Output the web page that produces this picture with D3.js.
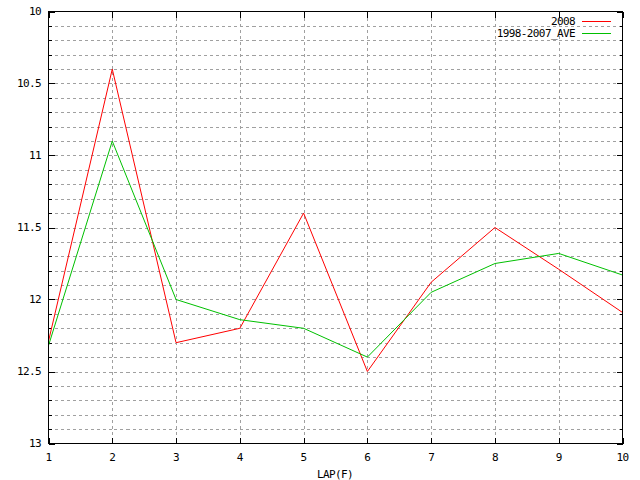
<!DOCTYPE html>
<html>
<head>
<meta charset="utf-8">
<script src="https://cdn.jsdelivr.net/npm/d3@7"></script>
<style>
html,body{margin:0;padding:0;background:#fff;}
svg{display:block;}
text{font-family:"DejaVu Sans Mono","Liberation Mono",monospace;font-size:11px;letter-spacing:-0.6px;fill:#000;}
</style>
</head>
<body>
<svg id="chart" width="640" height="480"></svg>
<script>
const laps = [1, 2, 3, 4, 5, 6, 7, 8, 9, 10];
const series2008 = [12.29, 10.4, 12.3, 12.2, 11.4, 12.5, 11.88, 11.5, 11.79, 12.09];
const seriesAve = [12.32, 10.9, 12.0, 12.14, 12.2, 12.4, 11.95, 11.75, 11.68, 11.83];
const seriesNames = ["2008", "1998-2007_AVE"];
const seriesColors = ["#ff0000", "#00c000"];
const yMajorTicks = [10, 10.5, 11, 11.5, 12, 12.5, 13];
const yTickLabels = ["10", "10.5", "11", "11.5", "12", "12.5", "13"];
const xLabel = "LAP(F)";

const L = 48.5, R = 622.5, T = 11.5, B = 443.5;
const svg = d3.select("#chart");
const x = d3.scaleLinear().domain([1, 10]).range([L, R]);
const y = d3.scaleLinear().domain([10, 13]).range([T, B]);

const yMinor = d3.range(0, 31).map(i => 10 + i / 10);

// grid
const grid = svg.append("g").attr("stroke", "#a0a0a0").attr("stroke-dasharray", "3,3")
  .attr("shape-rendering", "crispEdges");
yMinor.filter(v => v > 10 && v < 13).forEach(v => {
  grid.append("line").attr("x1", L).attr("x2", R).attr("y1", Math.round(y(v)) + 0.5).attr("y2", Math.round(y(v)) + 0.5);
});
laps.filter(v => v > 1 && v < 10).forEach(v => {
  grid.append("line").attr("y1", T).attr("y2", B).attr("x1", Math.round(x(v)) + 0.5).attr("x2", Math.round(x(v)) + 0.5);
});

// ticks
const ticks = svg.append("g").attr("stroke", "#000").attr("shape-rendering", "crispEdges");
yMinor.forEach(v => {
  const major = yMajorTicks.some(m => Math.abs(m - v) < 1e-9);
  const len = major ? 6 : 3;
  const yy = Math.round(y(v)) + 0.5;
  ticks.append("line").attr("x1", L).attr("x2", L + len).attr("y1", yy).attr("y2", yy);
  ticks.append("line").attr("x1", R).attr("x2", R - len).attr("y1", yy).attr("y2", yy);
});
laps.forEach(v => {
  const xx = Math.round(x(v)) + 0.5;
  ticks.append("line").attr("x1", xx).attr("x2", xx).attr("y1", B).attr("y2", B - 6);
  ticks.append("line").attr("x1", xx).attr("x2", xx).attr("y1", T).attr("y2", T + 6);
});

// tick labels
yMajorTicks.forEach((v, i) => {
  svg.append("text").attr("x", 41).attr("y", y(v)).attr("dy", "0.35em")
    .attr("text-anchor", "end").text(yTickLabels[i]);
});
laps.forEach(v => {
  svg.append("text").attr("x", x(v)).attr("y", 457).attr("dy", "0.35em")
    .attr("text-anchor", "middle").text(String(v));
});
svg.append("text").attr("x", 335).attr("y", 474).attr("dy", "0.35em")
  .attr("text-anchor", "middle").text(xLabel);

// lines
const line = d3.line().x((d, i) => x(laps[i])).y(d => y(d));
[series2008, seriesAve].forEach((s, k) => {
  svg.append("path").datum(s).attr("d", line).attr("fill", "none")
    .attr("stroke", seriesColors[k]).attr("stroke-width", 1);
});

// border
svg.append("rect").attr("x", L).attr("y", T).attr("width", R - L).attr("height", B - T)
  .attr("fill", "none").attr("stroke", "#000").attr("shape-rendering", "crispEdges");

// legend
seriesNames.forEach((n, k) => {
  const yy = 21 + k * 12;
  svg.append("text").attr("x", 575).attr("y", yy).attr("dy", "0.35em")
    .attr("text-anchor", "end").text(n);
  svg.append("line").attr("x1", 582).attr("x2", 611).attr("y1", yy + 0.5).attr("y2", yy + 0.5)
    .attr("stroke", seriesColors[k]).attr("shape-rendering", "crispEdges");
});
</script>
</body>
</html>
